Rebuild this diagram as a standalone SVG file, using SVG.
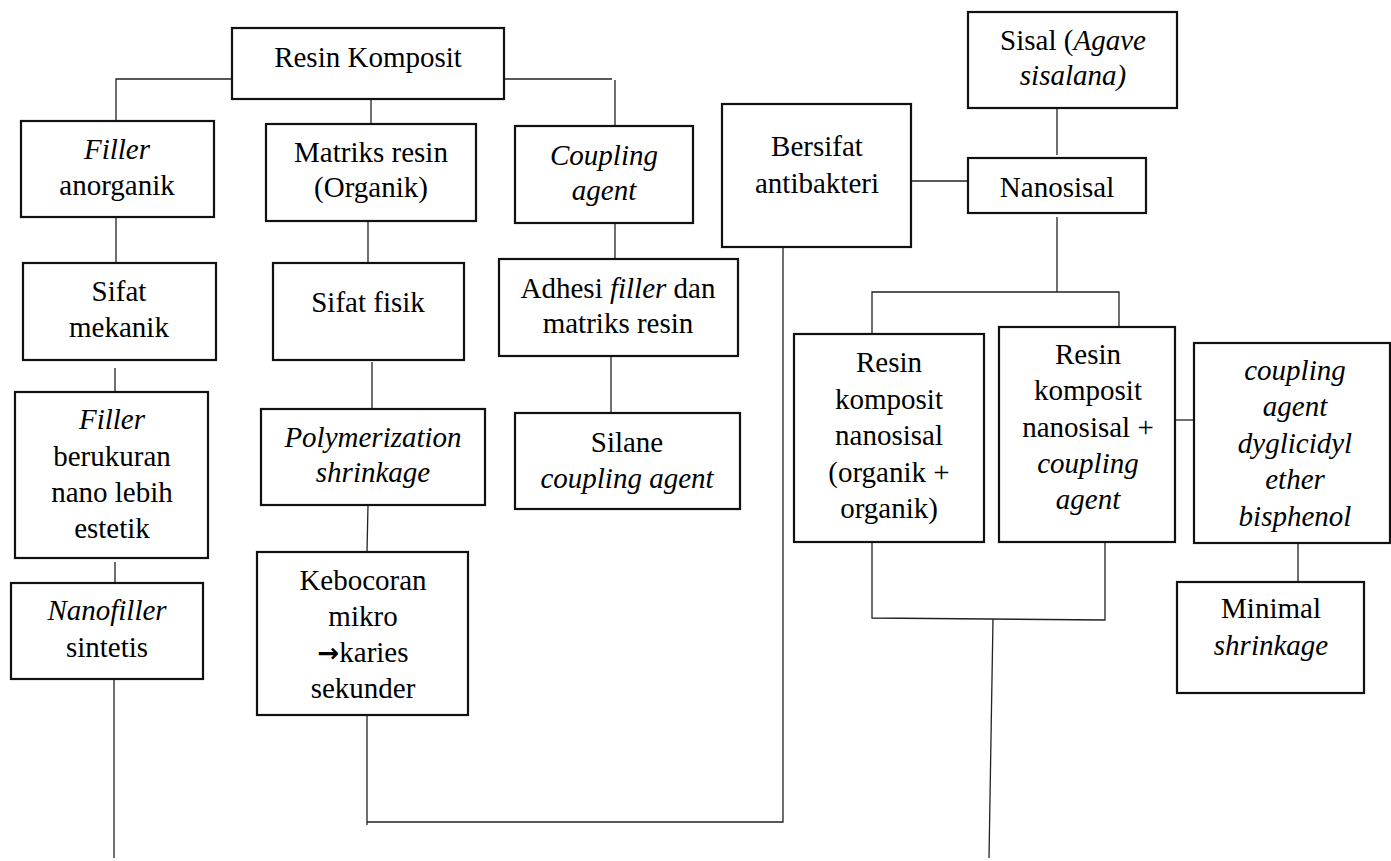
<svg xmlns="http://www.w3.org/2000/svg" width="1391" height="861" viewBox="0 0 1391 861" font-family="Liberation Serif, Times New Roman, serif" font-size="29">
<style>
.box{fill:#fff;stroke:#111;stroke-width:2.2}
text{fill:#000;text-anchor:middle}
.i{font-style:italic}
.c{fill:none;stroke:#222;stroke-width:1.3}
</style>
<rect width="1391" height="861" fill="#fff"/>
<g id="connectors">
<polyline class="c" points="232,79 116,79 116,122"/>
<polyline class="c" points="504,79 612,79"/>
<line class="c" x1="615" y1="80" x2="615" y2="126"/>
<line class="c" x1="371" y1="99" x2="371" y2="124"/>
<line class="c" x1="116" y1="217" x2="116" y2="263"/>
<line class="c" x1="115" y1="368" x2="115" y2="392"/>
<line class="c" x1="115" y1="562" x2="115" y2="583"/>
<line class="c" x1="114" y1="679" x2="114" y2="858"/>
<line class="c" x1="368" y1="221" x2="368" y2="267"/>
<line class="c" x1="372" y1="362" x2="372" y2="409"/>
<line class="c" x1="368" y1="505" x2="367" y2="552"/>
<polyline class="c" points="367,715 367,825"/>
<polyline class="c" points="367,822 783,822 783,247"/>
<line class="c" x1="615" y1="223" x2="615" y2="267"/>
<line class="c" x1="611" y1="356" x2="611" y2="417"/>
<line class="c" x1="1057" y1="108" x2="1057" y2="155"/>
<line class="c" x1="911" y1="181" x2="968" y2="181"/>
<line class="c" x1="1057" y1="217" x2="1057" y2="292"/>
<polyline class="c" points="872,334 872,292 1119,292 1119,326"/>
<line class="c" x1="1172" y1="420" x2="1194" y2="420"/>
<polyline class="c" points="872,537 872,618 1105,620 1105,542"/>
<line class="c" x1="993" y1="619" x2="989" y2="858"/>
<line class="c" x1="1298" y1="543" x2="1298" y2="582"/>
</g>
<g id="n-resin-komposit">
<rect class="box" x="232" y="28" width="272" height="71"/>
<text x="368" y="67">Resin Komposit</text>
</g>
<g id="n-filler-anorganik">
<rect class="box" x="21" y="121" width="193" height="96"/>
<text class="i" x="117" y="159">Filler</text>
<text x="117" y="195">anorganik</text>
</g>
<g id="n-sifat-mekanik">
<rect class="box" x="23" y="263" width="193" height="97"/>
<text x="119" y="301">Sifat</text>
<text x="119" y="337">mekanik</text>
</g>
<g id="n-filler-nano">
<rect class="box" x="15" y="392" width="193" height="166"/>
<text class="i" x="112" y="429">Filler</text>
<text x="112" y="466">berukuran</text>
<text x="112" y="502">nano lebih</text>
<text x="112" y="538">estetik</text>
</g>
<g id="n-nanofiller">
<rect class="box" x="11" y="583" width="192" height="96"/>
<text class="i" x="107" y="620">Nanofiller</text>
<text x="107" y="657">sintetis</text>
</g>
<g id="n-matriks">
<rect class="box" x="266" y="124" width="210" height="97"/>
<text x="371" y="162">Matriks resin</text>
<text x="371" y="197">(Organik)</text>
</g>
<g id="n-sifat-fisik">
<rect class="box" x="273" y="263" width="191" height="97"/>
<text x="368" y="312">Sifat fisik</text>
</g>
<g id="n-polymerization">
<rect class="box" x="261" y="409" width="224" height="96"/>
<text class="i" x="373" y="447">Polymerization</text>
<text class="i" x="373" y="482">shrinkage</text>
</g>
<g id="n-kebocoran">
<rect class="box" x="257" y="552" width="211" height="163"/>
<text x="363" y="590">Kebocoran</text>
<text x="363" y="626">mikro</text>
<text x="363" y="662"><tspan font-family="DejaVu Sans, sans-serif" font-weight="bold" font-size="26">→</tspan>karies</text>
<text x="363" y="698">sekunder</text>
</g>
<g id="n-coupling">
<rect class="box" x="515" y="126" width="178" height="97"/>
<text class="i" x="604" y="165">Coupling</text>
<text class="i" x="604" y="200">agent</text>
</g>
<g id="n-adhesi">
<rect class="box" x="499" y="259" width="239" height="97"/>
<text x="618" y="298">Adhesi <tspan class="i">filler</tspan> dan</text>
<text x="618" y="333">matriks resin</text>
</g>
<g id="n-silane">
<rect class="box" x="515" y="413" width="225" height="96"/>
<text x="627" y="452">Silane</text>
<text class="i" x="627" y="488">coupling agent</text>
</g>
<g id="n-bersifat">
<rect class="box" x="722" y="104" width="189" height="143"/>
<text x="817" y="156">Bersifat</text>
<text x="817" y="193">antibakteri</text>
</g>
<g id="n-sisal">
<rect class="box" x="968" y="12" width="209" height="96"/>
<text x="1073" y="50">Sisal (<tspan class="i">Agave</tspan></text>
<text class="i" x="1073" y="85">sisalana)</text>
</g>
<g id="n-nanosisal">
<rect class="box" x="968" y="158" width="178" height="55"/>
<text x="1057" y="197">Nanosisal</text>
</g>
<g id="n-rk-organik">
<rect class="box" x="794" y="334" width="190" height="208"/>
<text x="889" y="372">Resin</text>
<text x="889" y="409">komposit</text>
<text x="889" y="445">nanosisal</text>
<text x="889" y="482">(organik +</text>
<text x="889" y="518">organik)</text>
</g>
<g id="n-rk-coupling">
<rect class="box" x="999" y="327" width="176" height="215"/>
<text x="1088" y="364">Resin</text>
<text x="1088" y="400">komposit</text>
<text x="1088" y="437">nanosisal +</text>
<text class="i" x="1088" y="473">coupling</text>
<text class="i" x="1088" y="509">agent</text>
</g>
<g id="n-dyglicidyl">
<rect class="box" x="1194" y="343" width="196" height="200"/>
<text class="i" x="1295" y="380">coupling</text>
<text class="i" x="1295" y="416">agent</text>
<text class="i" x="1295" y="453">dyglicidyl</text>
<text class="i" x="1295" y="489">ether</text>
<text class="i" x="1295" y="526">bisphenol</text>
</g>
<g id="n-minimal">
<rect class="box" x="1177" y="582" width="187" height="111"/>
<text x="1271" y="618">Minimal</text>
<text class="i" x="1271" y="655">shrinkage</text>
</g>
</svg>
